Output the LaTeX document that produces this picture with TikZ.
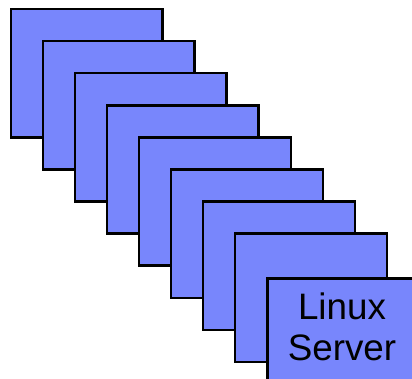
\documentclass[tikz,border=0pt]{standalone}
\usepackage{fontspec}
\setmainfont{Liberation Sans}
\definecolor{boxblue}{RGB}{120,134,252}
\begin{document}
\begin{tikzpicture}[x=1pt,y=-1pt,
  srvbox/.style={draw=black, fill=boxblue, line width=2.6pt, rectangle,
    minimum width=151.8pt, minimum height=128.5pt, inner sep=0pt, anchor=north west},
  srvtext/.style={font=\fontsize{36.8}{40.7}\selectfont, align=center, inner sep=0pt, anchor=north}]
\useasboundingbox (0,0) rectangle (412,379);
\clip (0,0) rectangle (412,379);
\foreach \k in {0,...,7} {
  \node[srvbox] (b\k) at ({9.5+32.05*\k},{7.8+32.05*\k}) {};
}
\node[srvbox] (b8) at (266.2,277.3) {};
\node[srvtext] (lbl) at (342,292.8) {Linux\\Server};
\end{tikzpicture}
\end{document}
